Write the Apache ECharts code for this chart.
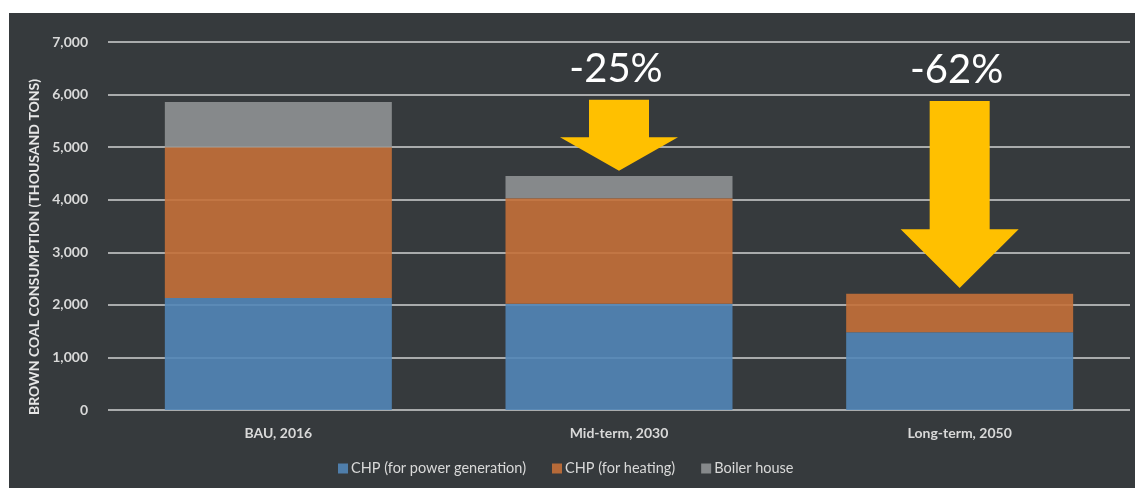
<!DOCTYPE html>
<html>
<head>
<meta charset="utf-8">
<script src="https://cdn.jsdelivr.net/npm/echarts@6/dist/echarts.min.js"></script>
<style>
  html, body { margin: 0; padding: 0; background: #ffffff; width: 1135px; height: 488px; overflow: hidden; }
  #chart { position: absolute; left: 9px; top: 13px; width: 1126px; height: 475px; }
</style>
</head>
<body>
<div id="chart"></div>
<script>
// ---- data ----
const categories = ['BAU, 2016', 'Mid-term, 2030', 'Long-term, 2050'];
const seriesNames = ['CHP (for power generation)', 'CHP (for heating)', 'Boiler house'];
const chpPower   = [2130, 2020, 1480];
const chpHeating = [2870, 2010, 730];
const boiler     = [860, 420, 0];
const yTicks = [0, 1000, 2000, 3000, 4000, 5000, 6000, 7000];
// reduction arrows: category index, top value, neck value, tip value, label
const arrowCategory = [1, 2];
const arrowTop   = [5900, 5880];
const arrowNeck  = [5190, 3440];
const arrowTip   = [4550, 2320];
const arrowLabel = ['-25%', '-62%'];

const colors = ['#5286b7', '#c47039', '#8f9294'];
const textColor = '#d9d9d9';
const fontFamily = 'Lato, "Open Sans", sans-serif';

const arrowData = arrowCategory.map((c, i) => [c, arrowTop[i], arrowNeck[i], arrowTip[i], i]);

const chart = echarts.init(document.getElementById('chart'));
chart.setOption({
  backgroundColor: '#363a3d',
  animation: false,
  color: colors,
  grid: { left: 99, right: 5, top: 29, bottom: 78 },
  legend: {
    data: seriesNames,
    top: 443,
    left: 324,
    itemWidth: 10,
    itemHeight: 10,
    itemGap: 26,
    icon: 'rect',
    textStyle: { color: textColor, fontSize: 14.5, fontFamily: fontFamily, padding: [0, 0, 0, -2] }
  },
  xAxis: {
    type: 'category',
    data: categories,
    axisLine: { show: false },
    axisTick: { show: false },
    axisLabel: { color: textColor, fontSize: 14, fontWeight: 'bold', fontFamily: fontFamily, margin: 16 }
  },
  yAxis: {
    type: 'value',
    min: yTicks[0],
    max: yTicks[yTicks.length - 1],
    interval: yTicks[1] - yTicks[0],
    name: 'BROWN COAL CONSUMPTION (THOUSAND TONS)',
    nameLocation: 'middle',
    nameGap: 61,
    nameTextStyle: { color: '#e6e6e6', fontSize: 14, fontWeight: 'bold', fontFamily: fontFamily, padding: [0, 42, 0, 0] },
    axisLine: { show: false },
    axisTick: { show: false },
    axisLabel: {
      color: textColor, fontSize: 14, fontWeight: 'bold', fontFamily: fontFamily, margin: 20,
      formatter: v => v.toLocaleString('en-US')
    },
    splitLine: { lineStyle: { color: '#a9abac', width: 2 } }
  },
  series: [
    { name: seriesNames[0], type: 'bar', stack: 'total', data: chpPower, barWidth: 227, itemStyle: { opacity: 0.9 } },
    { name: seriesNames[1], type: 'bar', stack: 'total', data: chpHeating, barWidth: 227, itemStyle: { opacity: 0.9 } },
    { name: seriesNames[2], type: 'bar', stack: 'total', data: boiler, barWidth: 227, itemStyle: { opacity: 0.9 } },
    {
      type: 'custom',
      data: arrowData,
      z: 5,
      silent: true,
      renderItem: function (params, api) {
        const cat = api.value(0);
        const x = api.coord([cat, 0])[0];
        const top = api.coord([cat, api.value(1)])[1];
        const neck = api.coord([cat, api.value(2)])[1];
        const tip = api.coord([cat, api.value(3)])[1];
        const sw = 30, hw = 59;
        return {
          type: 'group',
          children: [
            {
              type: 'polygon',
              shape: { points: [[x - sw, top], [x + sw, top], [x + sw, neck], [x + hw, neck], [x, tip], [x - hw, neck], [x - sw, neck]] },
              style: { fill: '#ffc000' }
            },
            {
              type: 'text',
              style: {
                text: arrowLabel[api.value(4)],
                x: x - 3, y: top - 31,
                align: 'center', verticalAlign: 'middle',
                fill: '#ffffff',
                font: '40px ' + fontFamily
              }
            }
          ]
        };
      }
    }
  ]
});
</script>
</body>
</html>
